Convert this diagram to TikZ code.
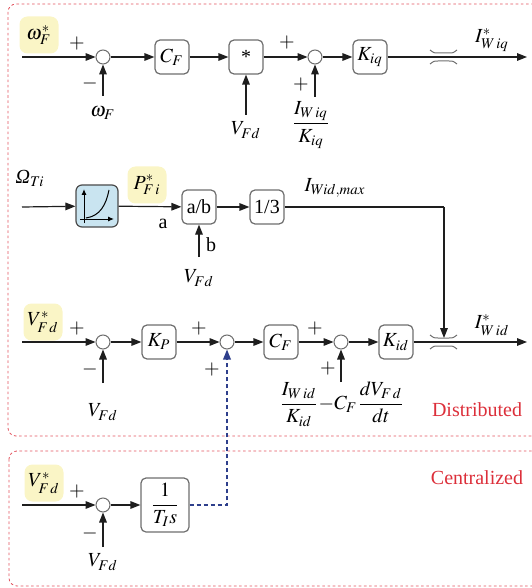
\documentclass[tikz,border=0pt]{standalone}
\usepackage{amsmath}
\usepackage{mathptmx}
\usepackage[no-math]{fontspec}
\setmainfont{Liberation Serif}
\usetikzlibrary{arrows.meta,positioning,calc}
\definecolor{ink}{HTML}{1E1E1E}
\definecolor{rim}{HTML}{6E6E6E}
\definecolor{hilite}{HTML}{FAF5C6}
\definecolor{lookup}{HTML}{C9E4F0}
\definecolor{zone}{HTML}{E2535E}
\definecolor{zonetext}{HTML}{DC2F3A}
\definecolor{link}{HTML}{2E3F8C}
\tikzset{block/.style={draw=rim,fill=white,line width=0.6pt,rounded corners=2.5pt,minimum width=17pt,minimum height=17pt,inner sep=1pt},sumj/.style={draw=rim,fill=white,line width=0.5pt,circle,minimum size=7pt,inner sep=0pt},refl/.style={fill=hilite,rounded corners=4pt,minimum width=19.5pt,minimum height=18.5pt,inner sep=0pt},sig/.style={draw=ink,line width=0.6pt,-{Triangle[length=5pt,width=3.8pt]}},wire/.style={draw=ink,line width=0.6pt},zonebox/.style={draw=zone,line width=0.4pt,dash pattern=on 1.3pt off 1.3pt,rounded corners=4pt},every picture/.style={>=Latex}}

\begin{document}
\begin{tikzpicture}[x=0.5pt,y=-0.5pt,font=\fontsize{10}{12}\selectfont]
\useasboundingbox (0,0) rectangle (531,588);
\draw[zonebox] (8,4) rectangle (545,436);
\draw[zonebox] (9,451) rectangle (545,586);
\node[zonetext] at (477,410) {Distributed};
\node[zonetext] at (477,478) {Centralized};
\node[refl] (wref) at (39,35) {$\omega^{*}_{F}$};
\node[refl] (pref) at (147,185) {$P^{*}_{F\,i}$};
\node[refl] (vref) at (43,322) {$V^{*}_{F\,d}$};
\node[refl] (vrefc) at (44,483) {$V^{*}_{F\,d}$};
\coordinate (win) at (22,57);\coordinate (omin) at (22,207);\coordinate (vin) at (22,342);\coordinate (vinc) at (22,505);
\node[sumj] (s1) at (103,57) {};
\node[block] (cf1) at (172,57) {$C_F$};
\node[block] (mul) at (246,57) {*};
\node[sumj] (s2) at (315,57) {};
\node[block] (kiq) at (370,57) {$K_{iq}$};
\coordinate (outq) at (527,57);
\node (omg) at (30,178) {$\textit{Ω}_{Ti}$};
\node[block,fill=lookup,draw=ink!80,minimum width=21pt,minimum height=21pt,rounded corners=3pt] (map) at (97,206) {};
\node[block] (div) at (199,207) {a/b};
\node[block] (third) at (267,207) {1/3};
\coordinate (corner) at (444,207);
\node[sumj] (s3) at (103,342) {};
\node[block] (kp) at (159,342) {$K_P$};
\node[sumj] (s4) at (227,342) {};
\node[block] (cf2) at (281,342) {$C_F$};
\node[sumj] (s5) at (341,342) {};
\node[block] (kid) at (396,342) {$K_{id}$};
\coordinate (limd) at (444,338);
\coordinate (outd) at (527,342);
\node[sumj] (s6) at (103,505) {};
\node[block,minimum width=24pt,minimum height=27pt] (ti) at (165,505) {$\dfrac{1}{T_I s}$};
\coordinate (wfin) at (103,96);\coordinate (vfin1) at (246,115);\coordinate (iqin) at (315,97);
\coordinate (vfin2) at (199,257);\coordinate (vfin3) at (103,383);\coordinate (idin) at (341,382);\coordinate (vfin4) at (103,547);
\node at (103,113) {$\omega_F$};
\node at (246,130) {$V_{Fd}$};
\node at (311,125) {$\dfrac{I_{W\,iq}}{K_{iq}}$};
\node at (492,40) {$I^{*}_{W\,iq}$};
\node at (163,224) {a};
\node at (211,245) {b};
\node at (199,278) {$V_{Fd}$};
\node at (335,188) {$I_{Wid,max}$};
\node at (103,412) {$V_{Fd}$};
\node at (342,404) {$\dfrac{I_{W\,id}}{K_{id}}{-}C_F\dfrac{dV_{F\,d}}{dt}$};
\node at (492,325) {$I^{*}_{W\,id}$};
\node at (103,562) {$V_{Fd}$};
\foreach \px/\py/\sg in {77/44/+,90/84/-,287/43/+,301/85/+,77/329/+,90/369/-,199/329/+,212/370/+,315/329/+,328/369/+,77/492/+,90/533/-}{\node at (\px,\py) {$\sg$};}
\draw[sig] (win) -- (s1);\draw[sig] (s1) -- (cf1);\draw[sig] (cf1) -- (mul);\draw[sig] (mul) -- (s2);\draw[sig] (s2) -- (kiq);\draw[sig] (kiq) -- (outq);
\draw[sig] (wfin) -- (s1);\draw[sig] (vfin1) -- (mul);\draw[sig] (iqin) -- (s2);
\draw[sig] (omin) -- (map);\draw[sig] (map) -- (div);\draw[sig] (div) -- (third);\draw[sig] (vfin2) -- (div);
\draw[wire] (third) -- (corner);\draw[sig] (corner) -- (limd);
\draw[sig] (vin) -- (s3);\draw[sig] (s3) -- (kp);\draw[sig] (kp) -- (s4);\draw[sig] (s4) -- (cf2);\draw[sig] (cf2) -- (s5);\draw[sig] (s5) -- (kid);\draw[sig] (kid) -- (outd);
\draw[sig] (vfin3) -- (s3);\draw[sig] (idin) -- (s5);
\draw[sig] (vinc) -- (s6);\draw[sig] (s6) -- (ti);\draw[sig] (vfin4) -- (s6);
\draw[sig,draw=link,line width=0.8pt,dash pattern=on 2pt off 1.5pt] (ti) -| (s4);
\foreach \ly in {57,342}{\draw[rim,line width=0.5pt] (430,{\ly-7}) .. controls (434,{\ly-4}) .. (438,{\ly-4}) -- (449,{\ly-4}) .. controls (453,{\ly-4}) .. (457,{\ly-7});\draw[rim,line width=0.5pt] (430,{\ly+7}) .. controls (434,{\ly+4}) .. (438,{\ly+4}) -- (449,{\ly+4}) .. controls (453,{\ly+4}) .. (457,{\ly+7});}
\draw[-{Latex[length=3pt,width=2.5pt]},line width=0.5pt] (84,223) -- (84,189);
\draw[-{Latex[length=3pt,width=2.5pt]},line width=0.5pt] (80,219) -- (114,219);
\draw[line width=0.5pt] (86,218) .. controls (100,216) and (106,205) .. (109,190);
\end{tikzpicture}
\end{document}
